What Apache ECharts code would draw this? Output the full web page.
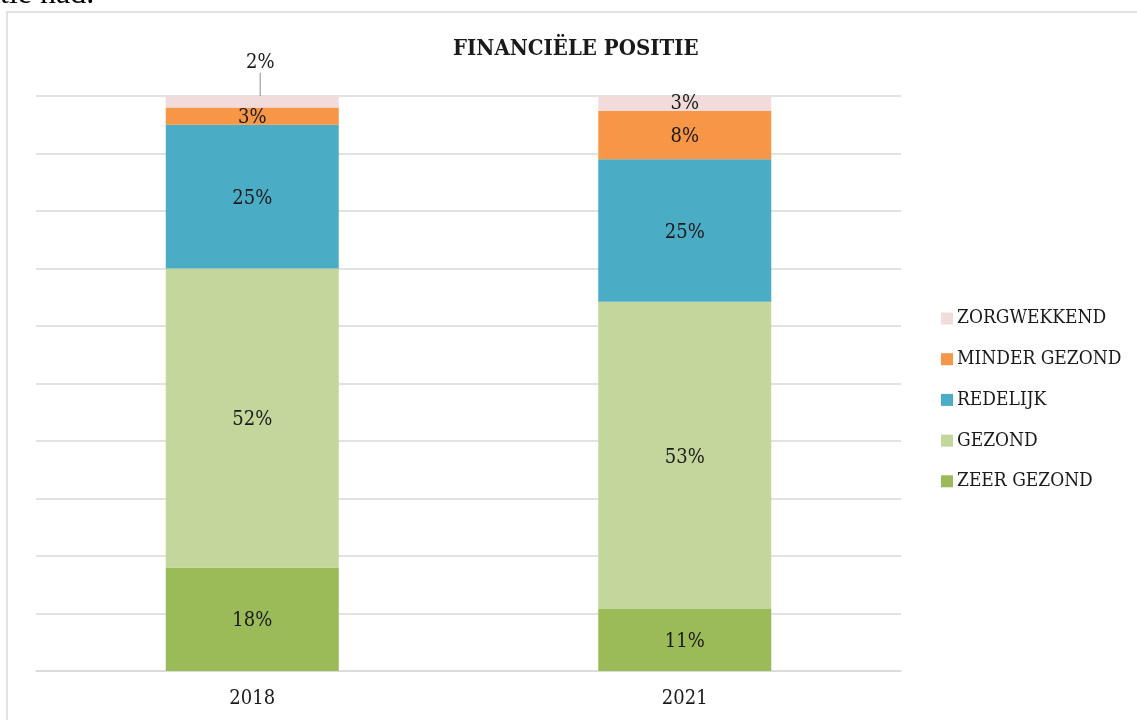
<!DOCTYPE html>
<html>
<head>
<meta charset="utf-8">
<script src="https://cdn.jsdelivr.net/npm/echarts@6/dist/echarts.min.js"></script>
<style>html,body{margin:0;padding:0;background:#fff}#c{width:1137px;height:720px}</style>
</head>
<body>
<div id="c"></div>
<script>
const categories = ['2018', '2021'];
const zeerGezond = [18.0, 10.8];
const gezond = [52.0, 53.4];
const redelijk = [25.0, 24.8];
const minderGezond = [3.0, 8.4];
const zorgwekkend = [2.0, 2.6];
const seriesNames = ['ZEER GEZOND', 'GEZOND', 'REDELIJK', 'MINDER GEZOND', 'ZORGWEKKEND'];
const seriesColors = ['#9BBB59', '#C3D69B', '#4BACC6', '#F79646', '#F2DCDB'];
const yTicks = [0, 10, 20, 30, 40, 50, 60, 70, 80, 90, 100];

const FONT = "'DejaVu Serif Condensed', 'DejaVu Serif'";
const values = [zeerGezond, gezond, redelijk, minderGezond, zorgwekkend];

const chart = echarts.init(document.getElementById('c'));
const series = seriesNames.map((name, i) => ({
  name: name,
  type: 'bar',
  stack: 'total',
  barCategoryGap: '60%',
  itemStyle: { color: seriesColors[i] },
  label: {
    show: true,
    position: 'inside',
    offset: [0, 2],
    color: '#1a1a1a',
    fontFamily: FONT,
    fontSize: 20,
    formatter: p => Math.round(p.value) + '%'
  },
  data: values[i].slice()
}));
// 2018 ZORGWEKKEND label moved above the bar with a leader line
series[4].labelLayout = function (p) {
  if (p.dataIndex === 0) return { dx: 8, dy: -39 };
  return {};
};
series[4].data[0] = {
  value: zorgwekkend[0],
  labelLine: { show: true, lineStyle: { color: '#a6a6a6', width: 1.3 } }
};

chart.setOption({
  animation: false,
  title: {
    text: 'FINANCIËLE POSITIE',
    left: 448,
    top: 33,
    textStyle: { fontFamily: FONT, fontWeight: 'bold', fontSize: 22, color: '#1a1a1a' }
  },
  legend: {
    orient: 'vertical',
    left: 936,
    top: 304,
    data: seriesNames.slice().reverse(),
    itemWidth: 12,
    itemHeight: 12,
    itemGap: 21.7,
    icon: 'rect',
    textStyle: { fontFamily: FONT, fontSize: 19, color: '#1a1a1a', padding: [0, 0, 0, -1] }
  },
  grid: { left: 36, right: 236, top: 96, bottom: 49 },
  xAxis: {
    type: 'category',
    data: categories,
    axisLine: { lineStyle: { color: '#d9d9d9', width: 1.5 } },
    axisTick: { show: false },
    axisLabel: { fontFamily: FONT, fontSize: 20, color: '#1a1a1a', margin: 18 }
  },
  yAxis: {
    type: 'value',
    min: yTicks[0],
    max: yTicks[yTicks.length - 1],
    interval: yTicks[1] - yTicks[0],
    axisLabel: { show: false },
    axisLine: { show: false },
    axisTick: { show: false },
    splitLine: { lineStyle: { color: '#d9d9d9', width: 1.5 } }
  },
  graphic: [
    { type: 'rect', shape: { x: 7, y: 12, width: 1300, height: 900 }, style: { fill: 'none', stroke: '#d9d9d9', lineWidth: 1.5 }, silent: true },
    { type: 'text', left: 0, top: -21, style: { text: 'tie nad.', fontFamily: 'Liberation Serif', fontSize: 32, fill: '#000' } }
  ],
  series: series
});
</script>
</body>
</html>
